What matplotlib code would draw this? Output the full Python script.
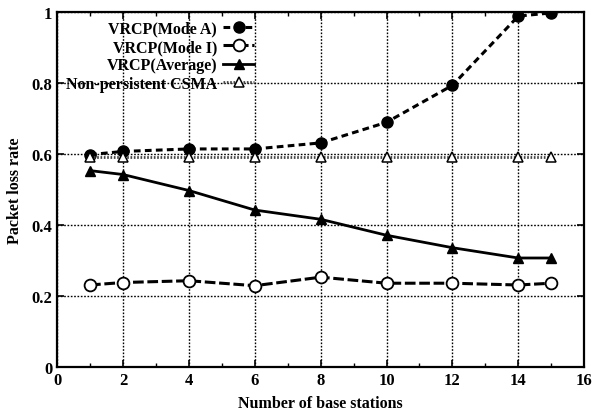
import matplotlib
matplotlib.use("Agg")
import matplotlib.pyplot as plt
from matplotlib.ticker import MultipleLocator

x = [1, 2, 4, 6, 8, 10, 12, 14, 15]
mode_a = [0.598, 0.607, 0.614, 0.614, 0.631, 0.689, 0.793, 0.988, 0.997]
mode_i = [0.231, 0.238, 0.243, 0.229, 0.253, 0.236, 0.236, 0.231, 0.236]
average = [0.553, 0.542, 0.497, 0.442, 0.416, 0.371, 0.336, 0.307, 0.307]
csma = [0.591, 0.591, 0.591, 0.591, 0.591, 0.591, 0.591, 0.591, 0.591]
labels = ["VRCP(Mode A)", "VRCP(Mode I)", "VRCP(Average)", "Non-persistent CSMA"]

plt.rcParams['font.family'] = ['Liberation Serif', 'DejaVu Serif']
plt.rcParams['font.weight'] = 'bold'

fig = plt.figure(figsize=(6.01, 4.14), dpi=100)
ax = fig.add_axes([0.095, 0.111, 0.877, 0.858])

ax.plot(x, mode_a, linestyle=(0, (2.2, 1.4)), color='black', lw=2.2,
        marker='o', ms=8, mfc='black', mec='black', label=labels[0])
ax.plot(x, mode_i, linestyle=(0, (3.5, 1.2)), color='black', lw=2.2,
        marker='o', ms=8.5, mfc='white', mec='black', mew=1.3, label=labels[1])
ax.plot(x, average, linestyle='-', color='black', lw=2.0,
        marker='^', ms=7.5, mfc='black', mec='black', label=labels[2])
ax.plot(x, csma, linestyle=(0, (0.6, 0.6)), color='#444444', lw=2.0,
        marker='^', ms=7.5, mfc='white', mec='black', mew=1.1, label=labels[3])

ax.set_xlim(0, 16)
ax.set_ylim(0, 1)
ax.xaxis.set_major_locator(MultipleLocator(2))
ax.xaxis.set_minor_locator(MultipleLocator(1))
ax.set_yticks([0, 0.2, 0.4, 0.6, 0.8, 1])
ax.set_yticklabels(['0', '0.2', '0.4', '0.6', '0.8', '1'])
ax.tick_params(which='both', direction='in', top=True, right=True, labelsize=12)
ax.tick_params(which='major', length=5, width=1.2)
ax.tick_params(which='minor', length=3, width=1.0)
ax.grid(True, which='major', linestyle=(0, (1.2, 1.2)), color='black', lw=1.0)
for s in ax.spines.values():
    s.set_linewidth(1.6)

ax.set_xlabel("Number of base stations", fontsize=11.5, fontweight='bold', labelpad=5)
ax.set_ylabel("Packet loss rate", fontsize=11.5, fontweight='bold', labelpad=6)

leg = ax.legend(loc='upper left', bbox_to_anchor=(0.0, 1.0), frameon=False,
                markerfirst=False, fontsize=11.5, handlelength=1.9,
                labelspacing=0.15, handletextpad=0.4, borderaxespad=0.15)
for t in leg.get_texts():
    t.set_fontweight('bold')
for col in leg._legend_handle_box.get_children():
    col.align = 'right'

fig.savefig("out.png", dpi=100)
